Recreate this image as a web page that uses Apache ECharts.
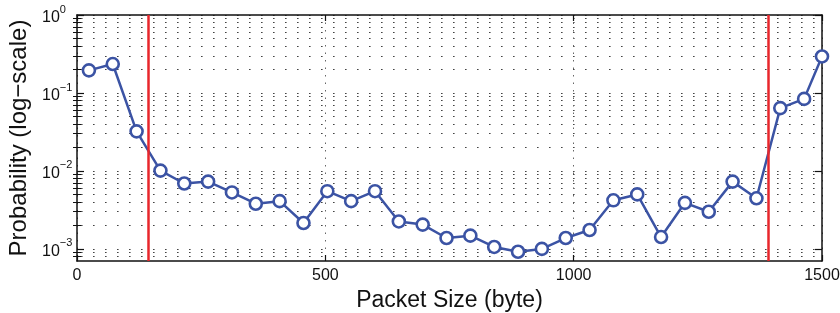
<!DOCTYPE html>
<html>
<head>
<meta charset="utf-8">
<script src="https://cdn.jsdelivr.net/npm/echarts@6/dist/echarts.min.js"></script>
<style>
  html, body { margin: 0; padding: 0; background: #fff; }
  #chart { width: 840px; height: 313px; }
</style>
</head>
<body>
<div id="chart"></div>
<script>
  // packet size bins (byte) and measured probability
  const packetSize = [24, 72, 120, 168, 216, 264, 312, 360, 408, 456, 504, 552, 600, 648, 696, 744,
    792, 840, 888, 936, 984, 1032, 1080, 1128, 1176, 1224, 1272, 1320, 1368, 1416, 1464, 1500]
  const probability = [0.195, 0.235, 0.0322, 0.0101, 0.0069, 0.0073, 0.0053, 0.0038, 0.0041, 0.00215,
    0.0055, 0.0041, 0.0055, 0.00225, 0.00205, 0.00138, 0.00148, 0.00106, 0.00092, 0.001,
    0.00138, 0.00175, 0.0042, 0.005, 0.00142, 0.0039, 0.003, 0.0073, 0.00446, 0.064, 0.084, 0.294]
  // red separators
  const boundaries = [144, 1392]
  // y ticks
  const yMajor = [0.001, 0.01, 0.1, 1]
  const yMinor = [0.0008, 0.0009,
    0.002, 0.003, 0.004, 0.005, 0.006, 0.007, 0.008, 0.009,
    0.02, 0.03, 0.04, 0.05, 0.06, 0.07, 0.08, 0.09,
    0.2, 0.3, 0.4, 0.5, 0.6, 0.7, 0.8, 0.9]

  const font = "'Liberation Sans', Arial, Helvetica, sans-serif"
  const black = '#111'
  const blue = '#3b53a4'
  const dotted = { type: [1.6, 10.4], dashOffset: 8, color: '#444', width: 1.2 }

  function expLabel (v) {
    const e = Math.round(Math.log10(v))
    return '{b|10}{s|' + (e < 0 ? '\u2212' + (-e) : e) + '}'
  }

  const yBase = {
    type: 'log',
    logBase: 10,
    min: 0.0007,
    max: 1,
    axisLine: { show: false },
    axisLabel: { show: false },
    splitLine: { show: false },
    axisTick: { show: false }
  }

  const chart = echarts.init(document.getElementById('chart'))
  chart.setOption({
    animation: false,
    textStyle: { fontFamily: font },
    grid: { left: 77, right: 18, top: 15, bottom: 52, show: false, containLabel: false, outerBoundsMode: 'none' },
    xAxis: [{
      type: 'value',
      min: 0,
      max: 1500,
      interval: 500,
      position: 'bottom',
      name: 'Packet Size (byte)',
      nameLocation: 'middle',
      nameGap: 24,
      nameTextStyle: { fontSize: 23, color: black, fontFamily: font },
      axisLine: { show: true, onZero: false, lineStyle: { color: black, width: 1.5 } },
      axisTick: { inside: true, length: 6, lineStyle: { color: black, width: 1.2 } },
      axisLabel: { fontSize: 16, color: black, margin: 7, fontFamily: font, formatter: v => String(v) },
      splitLine: { show: true, lineStyle: { type: [1.5, 6], color: '#666', width: 1 } }
    }, {
      type: 'value',
      min: 0,
      max: 1500,
      interval: 500,
      position: 'top',
      axisLine: { show: true, onZero: false, lineStyle: { color: black, width: 1.5 } },
      axisTick: { inside: true, length: 6, lineStyle: { color: black, width: 1.2 } },
      axisLabel: { show: false },
      splitLine: { show: false }
    }],
    yAxis: [Object.assign({}, yBase, {
      position: 'left',
      name: 'Probability (log\u2212scale)',
      nameLocation: 'middle',
      nameGap: 45,
      nameTextStyle: { fontSize: 24, color: black, fontFamily: font },
      axisLine: { show: true, onZero: false, lineStyle: { color: black, width: 1.5 } },
      axisTick: { show: true, inside: true, length: 7, customValues: yMajor, lineStyle: { color: black, width: 1.2 } },
      axisLabel: {
        show: true,
        customValues: yMajor,
        align: 'left',
        margin: 35,
        formatter: expLabel,
        rich: {
          b: { fontSize: 16, color: black, fontFamily: font, lineHeight: 22, verticalAlign: 'bottom' },
          s: { fontSize: 11, color: black, fontFamily: font, lineHeight: 22, verticalAlign: 'top' }
        }
      }
    }), Object.assign({}, yBase, {
      position: 'left',
      axisTick: { show: true, inside: true, length: 4, customValues: yMinor, lineStyle: { color: black, width: 1 } },
      splitLine: { show: true, lineStyle: dotted }
    }), Object.assign({}, yBase, {
      position: 'right',
      axisLine: { show: true, onZero: false, lineStyle: { color: black, width: 1.5 } },
      axisTick: { show: true, inside: true, length: 7, customValues: yMajor, lineStyle: { color: black, width: 1.2 } },
      splitLine: { show: true, lineStyle: dotted }
    }), Object.assign({}, yBase, {
      position: 'right',
      axisTick: { show: true, inside: true, length: 4, customValues: yMinor, lineStyle: { color: black, width: 1 } }
    })],
    series: [{
      type: 'line',
      xAxisIndex: 0,
      yAxisIndex: 0,
      data: packetSize.map((x, i) => [x, probability[i]]),
      symbol: 'circle',
      symbolSize: 12,
      lineStyle: { color: blue, width: 2.5 },
      itemStyle: { color: '#fff', borderColor: blue, borderWidth: 2.6 },
      markLine: {
        silent: true,
        symbol: 'none',
        label: { show: false },
        lineStyle: { color: '#e8262b', width: 2.5, type: 'solid' },
        data: boundaries.map(b => ({ xAxis: b }))
      },
      z: 3
    }]
  })
</script>
</body>
</html>
